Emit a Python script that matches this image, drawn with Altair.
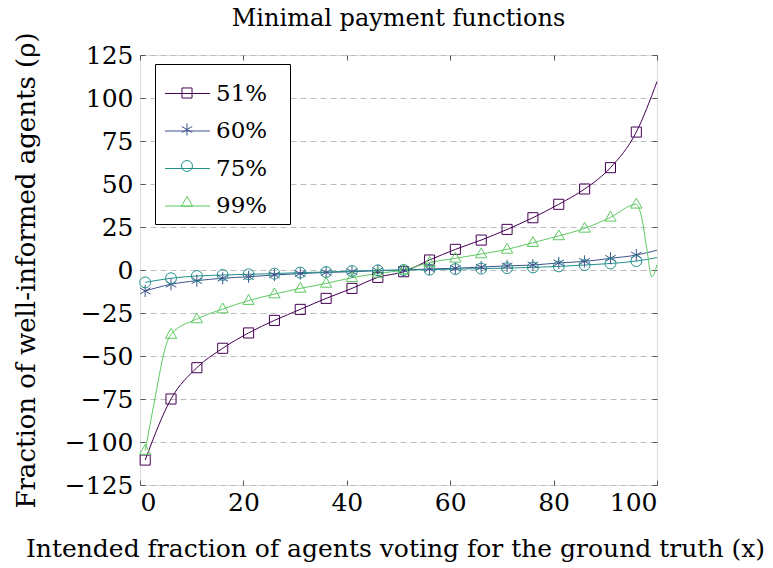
import altair as alt
import pandas as pd

series_names = ["51%", "60%", "75%", "99%"]
colors = ["#440154", "#3b528b", "#21918c", "#5ec962"]
# marker outlines drawn inside a [-1,1] box (the symbol box is also used for the legend rows)
shapes = ["M-0.224,-0.224L0.224,-0.224L0.224,0.224L-0.224,0.224Z",
          "M0,-0.27L0,0.27M-0.233,-0.135L0.233,0.135M-0.233,0.135L0.233,-0.135",
          "M0.243,0A0.243,0.243 0 1 1 -0.243,0A0.243,0.243 0 1 1 0.243,0Z",
          "M0,-0.27L0.252,0.168L-0.252,0.168Z"]

x_ticks = [0, 20, 40, 60, 80, 100]
y_ticks = [-125, -100, -75, -50, -25, 0, 25, 50, 75, 100, 125]

# marker positions (every 5th sample)
x_marks = [1, 6, 11, 16, 21, 26, 31, 36, 41, 46, 51, 56, 61, 66, 71, 76, 81, 86, 91, 96]
y51 = [-110.5, -75, -56.8, -45.5, -36.6, -29.3, -22.9, -16.5, -10.7, -4.3,
       -1.0, 5.8, 12.0, 17.4, 23.6, 30.4, 38.2, 47.1, 59.5, 80.2]
y60 = [-12.2, -8.3, -6.2, -4.8, -3.9, -2.9, -2.1, -1.4, -1.0, -0.4,
       0.0, 0.6, 1.0, 1.7, 2.4, 2.9, 4.1, 5.0, 6.8, 8.7]
y75 = [-7.2, -4.8, -3.5, -2.9, -2.5, -2.1, -1.5, -1.2, -0.6, -0.2,
       0.0, 0.2, 0.5, 0.8, 1.1, 1.5, 2.1, 2.9, 3.8, 5.2]
y99 = [-105, -37.5, -28.5, -22.7, -17.8, -14.0, -10.7, -7.8, -4.5, -2.0,
       0.0, 4.3, 6.8, 9.3, 12.0, 15.9, 19.8, 24.2, 30.6, 38.2]

# extra curve samples between / after the markers
x51_extra = [100]
y51_extra = [109.5]
x60_extra = [100]
y60_extra = [11.5]
x75_extra = [100]
y75_extra = [7.2]
x99_extra = [2, 3, 4, 5, 97, 98, 99, 100]
y99_extra = [-89, -73, -57, -44, 31, 13, -4, 3]

marks_vals = [y51, y60, y75, y99]
extras = [(x51_extra, y51_extra), (x60_extra, y60_extra),
          (x75_extra, y75_extra), (x99_extra, y99_extra)]

line_rows = []
mark_rows = []
for name, ys, (xe, ye) in zip(series_names, marks_vals, extras):
    pts = list(zip(x_marks, ys)) + list(zip(xe, ye))
    pts.sort()
    for xv, yv in pts:
        line_rows.append({"x": xv, "y": yv, "curve": name})
    for xv, yv in zip(x_marks, ys):
        mark_rows.append({"x": xv, "y": yv, "series": name})

line_df = pd.DataFrame(line_rows)
mark_df = pd.DataFrame(mark_rows)

FONT = "DejaVu Serif"
SYM = 2025
xscale = alt.Scale(domain=[0, 100], nice=False, zero=False)
yscale = alt.Scale(domain=[-125, 125], nice=False, zero=False)

axis_bottom = alt.Axis(orient="bottom", values=x_ticks, grid=False, domain=False,
                       ticks=True, tickSize=5, tickColor="#555555", offset=-5,
                       labelPadding=5, labelFont=FONT, labelFontSize=25, labelColor="black",
                       title="Intended fraction of agents voting for the ground truth (x)",
                       titleFont=FONT, titleFontSize=25, titleFontWeight="normal",
                       titleColor="black", titlePadding=21, titleX=255)
axis_left = alt.Axis(orient="left", values=y_ticks, grid=True, gridDash=[6, 4],
                     gridColor="#bdbdbd", gridWidth=1, domain=False, ticks=True,
                     tickSize=5, tickColor="#555555", offset=-5, labelPadding=7,
                     labelFont=FONT, labelFontSize=25, labelColor="black",
                     title="Fraction of well-informed agents (ρ)", titleFont=FONT,
                     titleFontSize=26, titleFontWeight="normal", titleColor="black",
                     titlePadding=25)
axis_top = alt.Axis(orient="top", values=x_ticks, grid=False, domain=False, labels=False,
                    ticks=True, tickSize=5, tickColor="#555555", offset=-5, title=None)
axis_right = alt.Axis(orient="right", values=y_ticks, grid=False, domain=False, labels=False,
                      ticks=True, tickSize=5, tickColor="#555555", offset=-5, title=None)

common_legend = dict(title=None, orient="none", legendX=15, legendY=9,
                     symbolSize=SYM, labelFont=FONT, labelFontSize=23,
                     labelOffset=5, padding=6, rowPadding=1.5, symbolOffset=3,
                     labelExpr="datum.label + '\u2800'")
legend_lines = alt.Legend(symbolType="stroke", symbolStrokeWidth=1.2, labelColor="black",
                          strokeColor="black", fillColor="white", cornerRadius=0,
                          **common_legend)
legend_marks = alt.Legend(symbolStrokeWidth=1, labelOpacity=0, **common_legend)

lines = alt.Chart(line_df).mark_line(strokeWidth=1, interpolate="monotone").encode(
    x=alt.X("x:Q", scale=xscale, axis=axis_bottom),
    y=alt.Y("y:Q", scale=yscale, axis=axis_left),
    color=alt.Color("curve:N", scale=alt.Scale(range=colors), legend=legend_lines),
)

points = alt.Chart(mark_df).mark_point(filled=False, size=SYM, strokeWidth=1, opacity=1).encode(
    x=alt.X("x:Q", scale=xscale, axis=axis_top),
    y=alt.Y("y:Q", scale=yscale, axis=axis_right),
    stroke=alt.Stroke("series:N", scale=alt.Scale(range=colors), legend=legend_marks),
    shape=alt.Shape("series:N", scale=alt.Scale(range=shapes), legend=legend_marks),
)

chart = alt.layer(lines, points).resolve_axis(
    x="independent", y="independent"
).properties(
    width=517, height=430, autosize="none",
    padding={"left": 132, "top": 47, "right": 108, "bottom": 80},
    title=alt.TitleParams("Minimal payment functions", font=FONT, fontSize=24,
                          fontWeight="normal", color="black", anchor="middle", offset=1),
).configure_view(stroke="#222222", strokeWidth=1).configure(background="white")

chart.save("out.html", embed_options={"renderer": "svg", "actions": False})
